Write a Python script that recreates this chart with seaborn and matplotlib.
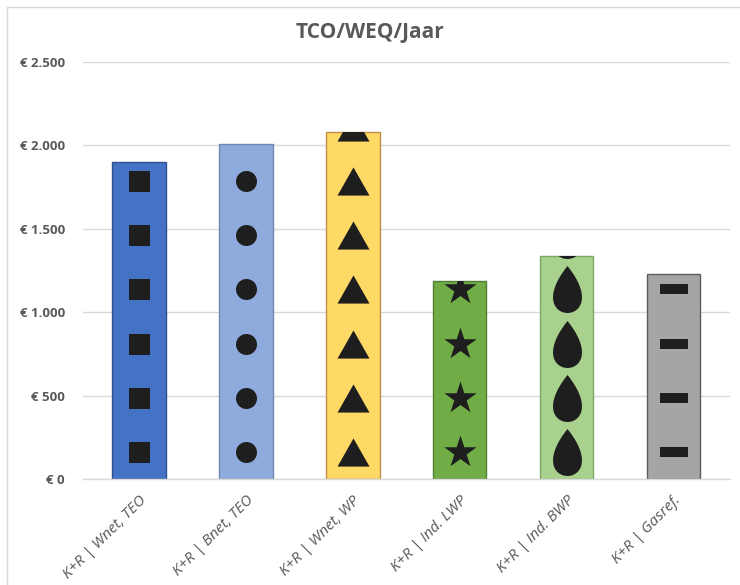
import numpy as np
import pandas as pd
import matplotlib
matplotlib.use("Agg")
import matplotlib.pyplot as plt
from matplotlib.path import Path
from matplotlib.ticker import FuncFormatter
import seaborn as sns

# data
categories = ["K+R | Wnet, TEO", "K+R | Bnet, TEO", "K+R | Wnet, WP",
              "K+R | Ind. LWP", "K+R | Ind. BWP", "K+R | Gasref."]
values = [1900, 2010, 2080, 1190, 1340, 1230]
y_ticks = [0, 500, 1000, 1500, 2000, 2500]

bar_colors = ["#4472C4", "#8FAADC", "#FFD966", "#70AD47", "#A9D18E", "#A5A5A5"]
edge_colors = ["#2F528F", "#6F87B5", "#BF8F4A", "#507E32", "#7FA865", "#5E5E5E"]

# marker shapes used as picture fill
t = np.linspace(0, 2 * np.pi, 80)
drop = Path(np.column_stack([0.40 * np.sin(t) * np.sin(t / 2), 0.5 * np.cos(t)]))
dash = Path([(-0.5, -0.18), (0.5, -0.18), (0.5, 0.18), (-0.5, 0.18), (-0.5, -0.18)])
tri = Path([(-0.5, -0.44), (0.5, -0.44), (0, 0.44), (-0.5, -0.44)])
markers = ["s", "o", tri, "*", drop, dash]
marker_px = [21, 21, 32, 34, 47, 28]
tile = 325  # vertical spacing of the fill pattern (data units)

sns.set_theme(style="white")
plt.rcParams["font.family"] = ["Open Sans", "DejaVu Sans"]

fig = plt.figure(figsize=(7.4, 5.85), dpi=100)
ax = fig.add_axes([0.112, 0.181, 0.874, 0.713])

df = pd.DataFrame({"cat": categories, "val": values})
sns.barplot(data=df, x="cat", y="val", hue="cat", palette=bar_colors,
            saturation=1, width=0.5, legend=False, ax=ax, zorder=2)

for i, bar in enumerate(ax.patches):
    bar.set_edgecolor(edge_colors[i])
    bar.set_linewidth(1.0)
    n = int(values[i] // tile) + 2
    ys = tile * (np.arange(n) + 0.5)
    xs = np.full(n, i)
    sc = ax.scatter(xs, ys, marker=markers[i], s=(marker_px[i] * 0.72) ** 2,
                    color="#1E1E1E", linewidths=0, zorder=3)
    sc.set_clip_path(bar)

ax.set_ylim(0, 2500)
ax.set_yticks(y_ticks)
ax.yaxis.set_major_formatter(FuncFormatter(
    lambda v, p: "€ " + f"{int(v):,}".replace(",", ".")))
ax.grid(axis="y", color="#D9D9D9", linewidth=1.0, zorder=0)
ax.set_axisbelow(True)
for s in ["top", "right", "left"]:
    ax.spines[s].set_visible(False)
ax.spines["bottom"].set_color("#D9D9D9")
ax.spines["bottom"].set_linewidth(1.0)

ax.set_xlabel("")
ax.set_ylabel("")
ax.tick_params(axis="both", length=0)
ax.tick_params(axis="y", pad=13)
for lab in ax.get_yticklabels():
    lab.set_fontsize(9.5)
    lab.set_fontweight("bold")
    lab.set_color("#595959")
ax.set_xticks(range(len(categories)))
ax.set_xticklabels(categories, rotation=45, ha="right", rotation_mode="anchor",
                   fontsize=11, style="italic", color="#595959")
ax.tick_params(axis="x", pad=10)

fig.text(0.5, 0.945, "TCO/WEQ/Jaar", ha="center", va="center",
         fontsize=15, fontweight="bold", color="#595959")

# chart area border
fig.add_artist(plt.Line2D([0.01, 0.01], [0.0, 0.988], color="#D9D9D9", lw=1))
fig.add_artist(plt.Line2D([0.01, 1.0], [0.988, 0.988], color="#D9D9D9", lw=1))

fig.savefig("out.png", dpi=100)
